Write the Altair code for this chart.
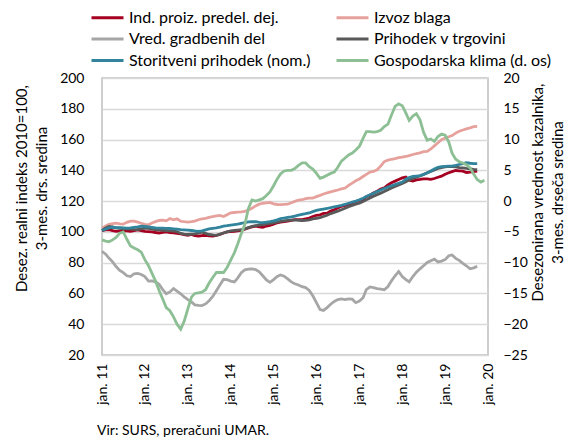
import altair as alt
import pandas as pd

months = pd.date_range("2011-01-01", periods=108, freq="MS")

names = ["Ind. proiz. predel. dej.", "Izvoz blaga", "Vred. gradbenih del",
         "Prihodek v trgovini", "Storitveni prihodek (nom.)", "Gospodarska klima (d. os)"]
colors = ["#A50021", "#E6A19C", "#A6A6A6", "#595959", "#31849B", "#8DBF94"]
# legend fills column by column: order entries so rows read as in the reference
legend_order = [0, 2, 4, 1, 3, 5]

ind = [100.9,101.3,101.5,100.8,100.4,100.7,100.9,100.6,100.4,100.8,
       101.3,100.8,100.4,100.2,100.0,99.6,99.3,99.7,100.0,99.6,
       99.3,99.0,98.7,98.2,97.8,98.3,97.6,97.2,97.6,97.8,
       97.4,97.2,97.8,98.3,99.3,100.0,100.2,100.4,100.6,100.9,
       101.8,102.6,103.2,103.7,103.2,103.0,103.8,104.3,105.0,105.9,
       106.3,106.7,107.0,107.5,108.0,108.0,108.0,108.5,109.0,110.0,
       110.8,111.1,112.0,112.2,113.5,114.4,115.5,116.6,117.2,117.7,
       118.8,119.4,120.3,121.0,122.8,123.8,125.3,126.4,127.8,128.6,
       130.5,131.9,133.0,134.1,135.1,135.6,133.5,133.0,133.8,134.1,
       134.5,134.4,134.1,134.7,135.5,136.2,137.5,138.4,139.2,139.9,
       139.7,139.5,138.6,138.8,139.2,139.5]

izvoz = [102.4,103.9,104.9,105.4,105.7,105.2,105.0,106.2,107.0,107.0,
         106.4,105.6,104.9,104.6,105.8,106.7,107.4,107.6,107.2,108.7,
         107.9,108.5,106.9,106.6,106.4,106.6,107.0,107.9,108.5,108.8,
         109.4,110.0,110.4,110.7,110.0,111.2,112.4,112.6,112.8,113.0,
         113.3,114.2,115.4,116.9,118.0,118.6,118.9,119.2,118.2,117.8,
         117.7,117.9,118.0,118.9,119.8,120.6,120.9,121.6,122.0,122.0,
         122.9,123.7,124.6,125.3,126.0,126.6,127.2,128.0,128.5,130.2,
         131.7,133.2,134.4,136.0,137.4,138.9,139.3,140.4,142.7,145.7,
         146.6,147.2,147.6,148.2,148.6,149.0,149.6,150.3,150.8,151.4,
         152.2,152.3,153.9,155.9,157.9,159.9,161.0,161.8,162.6,164.2,
         165.4,166.2,166.9,167.6,168.4,168.6]

gradb = [87.4,85.5,83.0,80.5,77.5,75.0,73.5,71.5,71.0,72.8,
         73.0,72.3,71.0,68.0,68.2,67.5,66.0,62.5,59.8,61.0,
         63.2,61.5,59.8,57.7,56.0,54.5,52.6,52.3,52.1,53.2,
         55.3,58.0,61.8,65.5,69.2,69.0,68.0,67.5,70.0,73.5,
         75.3,75.8,76.0,75.5,74.0,71.5,68.8,67.2,69.0,71.0,
         72.0,71.2,69.5,67.5,66.3,65.5,64.4,63.8,62.0,58.5,
         54.0,49.5,49.0,50.8,53.0,54.8,56.0,56.4,56.0,56.5,
         56.3,54.0,55.0,57.2,62.5,64.2,63.8,63.2,62.8,62.4,
         64.5,68.2,71.5,74.2,71.0,69.0,67.5,71.0,73.8,76.0,
         78.0,80.2,81.3,82.3,80.5,81.0,82.0,84.5,85.0,82.8,
         81.5,79.6,78.0,76.0,76.6,77.6]

trg = [100.9,102.5,103.5,103.2,102.6,102.4,102.2,102.0,101.8,101.6,
       101.5,102.0,102.5,102.3,101.8,101.5,101.3,101.0,100.9,100.7,
       100.5,100.2,99.0,98.5,98.3,98.5,98.7,99.2,99.8,99.0,
       98.3,98.0,97.8,98.5,99.3,100.0,100.7,101.0,101.2,101.4,
       102.0,102.8,103.6,104.0,104.4,104.8,105.2,105.6,105.9,106.3,
       106.8,107.2,107.5,107.7,107.8,107.5,107.4,107.5,107.8,108.4,
       108.8,109.2,110.0,110.8,111.9,112.7,113.5,114.4,115.4,116.4,
       117.2,118.0,118.6,119.7,120.8,122.0,123.2,124.2,125.2,126.3,
       127.4,128.5,129.5,130.5,131.5,132.5,133.8,134.8,135.6,136.3,
       137.3,138.4,139.3,140.2,141.2,141.8,142.2,142.6,142.4,142.2,
       141.8,141.6,141.2,140.9,140.6,140.5]

stor = [100.9,101.8,102.6,103.0,102.8,102.7,102.6,102.5,102.6,103.0,
        103.3,103.7,103.5,103.2,102.9,102.6,102.5,102.4,102.3,102.2,
        102.0,101.8,101.5,101.3,101.1,100.9,100.6,100.4,100.6,101.3,
        102.0,102.3,102.6,103.1,103.7,104.0,104.4,104.7,105.0,105.6,
        106.1,106.5,106.7,106.6,106.2,106.0,106.3,106.7,107.2,107.8,
        108.6,109.0,109.4,109.8,110.3,110.9,111.4,111.8,112.3,113.2,
        114.0,114.4,114.8,115.2,115.7,116.3,116.7,117.2,117.9,118.6,
        119.3,120.0,120.8,121.9,123.0,124.1,125.1,126.2,127.2,128.2,
        129.2,130.0,130.8,131.6,132.4,134.2,135.3,136.0,136.3,136.6,
        137.4,138.3,139.6,140.8,142.0,142.4,142.6,142.7,142.7,143.2,
        143.8,144.4,144.9,144.6,144.4,144.4]

klima = [-6.3,-6.5,-6.6,-6.3,-5.9,-5.2,-5.0,-6.2,-7.3,-7.6,
         -7.9,-8.3,-9.5,-10.5,-11.7,-13.0,-14.5,-15.9,-17.3,-17.8,
         -18.8,-20.0,-20.8,-19.5,-17.5,-15.6,-15.0,-14.9,-14.8,-14.4,
         -13.3,-12.4,-11.6,-11.6,-11.6,-10.8,-9.6,-8.4,-7.0,-5.3,
         -3.8,-1.2,0.2,0.0,0.2,0.4,0.9,1.5,2.5,3.6,
         4.4,4.9,5.0,5.0,5.3,5.8,6.2,6.2,5.6,5.2,
         4.5,3.7,3.9,4.2,4.5,4.7,5.5,6.5,7.0,7.5,
         7.8,8.3,8.9,10.2,11.3,11.3,11.2,11.3,11.5,12.1,
         12.5,14.0,15.4,15.8,15.5,14.3,13.1,13.8,14.2,13.2,
         11.2,9.9,10.1,9.7,10.5,10.9,10.7,9.6,7.8,6.8,
         6.4,6.2,5.9,5.4,4.4,3.5,3.1,3.4]

rows = []
for name, vals in zip(names[:5], [ind, izvoz, gradb, trg, stor]):
    for d, v in zip(months, vals):
        rows.append({"date": d, "series": name, "value": v})
left_df = pd.DataFrame(rows)
right_df = pd.DataFrame({"date": months[:len(klima)], "series": names[5], "value": klima})

FONT = "Lato"
x_scale = alt.Scale(domain=[alt.DateTime(year=2011, month=1, date=1),
                            alt.DateTime(year=2020, month=1, date=1)], nice=False)
x_axis = alt.Axis(values=[alt.DateTime(year=y, month=1, date=1) for y in range(2011, 2021)],
                  labelExpr="'jan. ' + timeFormat(datum.value, '%y')",
                  labelAngle=270, labelPadding=8, ticks=False, tickSize=0, domain=False,
                  grid=False, title=None, labelFont=FONT, labelFontSize=14,
                  labelColor="black", labelOverlap=False)
color_scale = alt.Scale(domain=[names[i] for i in legend_order],
                        range=[colors[i] for i in legend_order])
legend = alt.Legend(title=None, orient="none", legendX=-12, legendY=-70, columns=2,
                    symbolType="M-1,0H3", symbolSize=256, symbolStrokeWidth=3,
                    labelOffset=20, labelFont=FONT, labelFontSize=16, labelColor="black",
                    labelLimit=400, columnPadding=19, rowPadding=3.5, padding=0)

left = alt.Chart(left_df).mark_line(strokeWidth=2.8).encode(
    x=alt.X("date:T", scale=x_scale, axis=x_axis),
    y=alt.Y("value:Q", scale=alt.Scale(domain=[20, 200], nice=False),
            axis=alt.Axis(values=list(range(20, 201, 20)), grid=True, gridColor="#D9D9D9",
                          gridWidth=1.5, domain=False, ticks=False, tickSize=0,
                          labelPadding=18, labelFont=FONT, labelFontSize=14, labelColor="black",
                          title=["Desez. realni indeks 2010=100,", "3-mes. drs. sredina"],
                          titleFont=FONT, titleFontSize=15, titleFontWeight="normal",
                          titleColor="black", titleAngle=270, titleBaseline="top",
                          titleX=-88, titleY=110, titleLineHeight=20)),
    color=alt.Color("series:N", scale=color_scale, legend=legend),
)

right = alt.Chart(right_df).mark_line(strokeWidth=2.8).encode(
    x=alt.X("date:T", scale=x_scale, axis=x_axis),
    y=alt.Y("value:Q", scale=alt.Scale(domain=[-25, 20], nice=False),
            axis=alt.Axis(orient="right", values=list(range(-25, 21, 5)), grid=False,
                          domain=False, ticks=False, tickSize=0, labelPadding=15,
                          labelFont=FONT, labelFontSize=14, labelColor="black",
                          title=["Desezonirana vrednost kazalnika,", "3-mes. drseča sredina"],
                          titleFont=FONT, titleFontSize=15, titleFontWeight="normal",
                          titleColor="black", titleAngle=270, titleBaseline="top",
                          titleX=42, titleY=114, titleLineHeight=20)),
    color=alt.Color("series:N", scale=color_scale, legend=legend),
)

chart = alt.layer(left, right).resolve_scale(y="independent").properties(
    width=386, height=277,
    padding={"left": 94, "top": 70, "right": 80, "bottom": 86},
    autosize=alt.AutoSizeParams(type="none"),
    title=alt.TitleParams("Vir: SURS, preračuni UMAR.", orient="bottom", anchor="start",
                          frame="group", font=FONT, fontSize=14, fontWeight="normal",
                          color="black", offset=20, dx=-5),
).configure_view(stroke="#BFBFBF", strokeWidth=1.5)

chart.save("out.html", embed_options={"renderer": "svg", "actions": False})
